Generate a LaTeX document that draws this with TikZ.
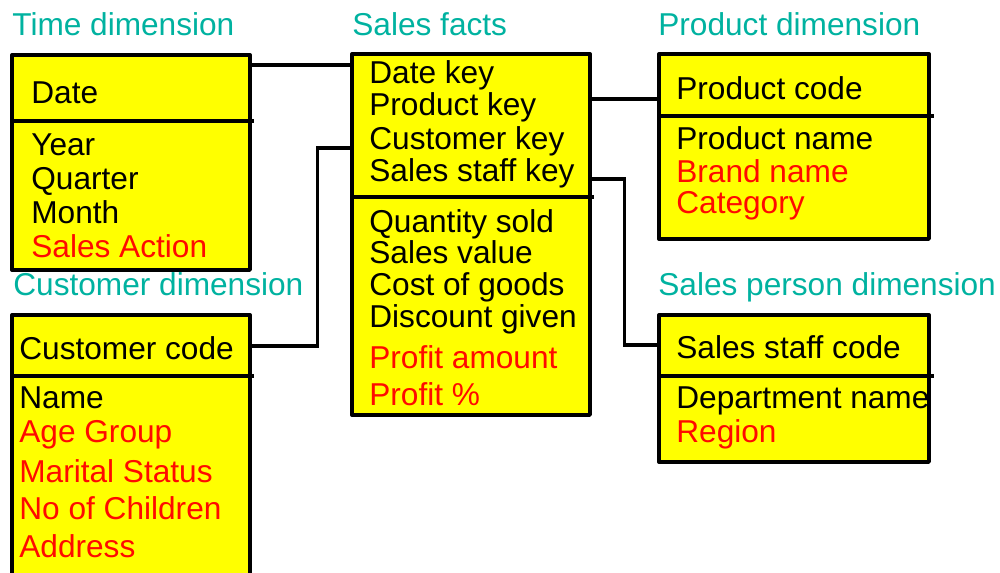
\documentclass[tikz,border=0pt]{standalone}
\usepackage{fontspec}
\setmainfont{Liberation Sans}
\definecolor{dimteal}{RGB}{0,178,160}
\definecolor{boxyellow}{RGB}{255,255,0}
\definecolor{extrared}{RGB}{255,10,0}

\begin{document}
\begin{tikzpicture}[x=0.02cm, y=-0.02cm,
    dimtable/.style={draw, fill=boxyellow, line width=2.2pt, line join=round,
      inner sep=0pt, anchor=north west},
    divider/.style={line width=2.2pt},
    link/.style={line width=1.8pt},
    heading/.style={anchor=base west, inner sep=0pt, text=dimteal,
      font=\fontsize{18}{20}\selectfont},
    field/.style={anchor=base west, inner sep=0pt,
      font=\fontsize{18}{20}\selectfont}]
  \useasboundingbox (0,0) rectangle (1000,572);

  % --- Tables ---
  \node[dimtable, minimum width=4.76cm, minimum height=4.3cm] (time) at (10,53) {};
  \node[dimtable, minimum width=4.76cm, minimum height=5.54cm] (customer) at (10,313) {};
  \node[dimtable, minimum width=4.76cm, minimum height=7.22cm] (facts) at (350,52) {};
  \node[dimtable, minimum width=5.4cm, minimum height=3.7cm] (product) at (657,52) {};
  \node[dimtable, minimum width=5.4cm, minimum height=2.94cm] (staff) at (657,313) {};

  % key / attribute separators
  \draw[divider] (time.west |- 0,121) -- (time.east |- 0,121) -- ++(2,0);
  \draw[divider] (customer.west |- 0,376) -- (customer.east |- 0,376) -- ++(2,0);
  \draw[divider] (facts.west |- 0,197) -- (facts.east |- 0,197) -- ++(2,0);
  \draw[divider] (product.west |- 0,116) -- (product.east |- 0,116) -- ++(3,0);
  \draw[divider] (staff.west |- 0,376) -- (staff.east |- 0,376) -- ++(3,0);

  % --- Headings ---
  \node[heading] (timehead) at (12,35) {Time dimension};
  \node[heading] (factshead) at (352,35) {Sales facts};
  \node[heading] (producthead) at (658,35) {Product dimension};
  \node[heading] (customerhead) at (13,295) {Customer dimension};
  \node[heading] (staffhead) at (658,295) {Sales person dimension};

  % --- Time dimension ---
  \node[field] (timekey) at (31,103) {Date};
  \foreach \y/\txt/\c [count=\i] in {155/Year/black, 189/Quarter/black,
      223/Month/black, 257/Sales Action/extrared}
    \node[field, text=\c] (time\i) at (31,\y) {\txt};

  % --- Customer dimension ---
  \node[field] (customerkey) at (19,359) {Customer code};
  \foreach \y/\txt/\c [count=\i] in {408/Name/black, 442/Age Group/extrared,
      482/Marital Status/extrared, 519/No of Children/extrared, 557/Address/extrared}
    \node[field, text=\c] (customer\i) at (19,\y) {\txt};

  % --- Sales facts ---
  \foreach \y/\txt [count=\i] in {83/Date key, 115/Product key,
      149/Customer key, 181/Sales staff key}
    \node[field] (factskey\i) at (369,\y) {\txt};
  \foreach \y/\txt/\c [count=\i] in {232/Quantity sold/black, 263/Sales value/black,
      295/Cost of goods/black, 327/Discount given/black,
      368/Profit amount/extrared, 405/Profit \%/extrared}
    \node[field, text=\c] (facts\i) at (369,\y) {\txt};

  % --- Product dimension ---
  \node[field] (productkey) at (676,99) {Product code};
  \foreach \y/\txt/\c [count=\i] in {149/Product name/black,
      182/Brand name/extrared, 213/Category/extrared}
    \node[field, text=\c] (product\i) at (676,\y) {\txt};

  % --- Sales person dimension ---
  \node[field] (staffkey) at (676,358) {Sales staff code};
  \node[field] (staff1) at (676,408) {Department name};
  \node[field, text=extrared] (staff2) at (676,442) {Region};

  % --- Joins ---
  \draw[link] (time.east |- 0,65) -- (facts.west |- 0,65);
  \draw[link] (facts.east |- 0,99) -- (product.west |- 0,99);
  \draw[link] (customer.east |- 0,346) -- ++(66,0) |- (facts.west |- 0,148);
  \draw[link] (facts.east |- 0,179) -- ++(33,0) |- (staff.west |- 0,345);
\end{tikzpicture}
\end{document}
